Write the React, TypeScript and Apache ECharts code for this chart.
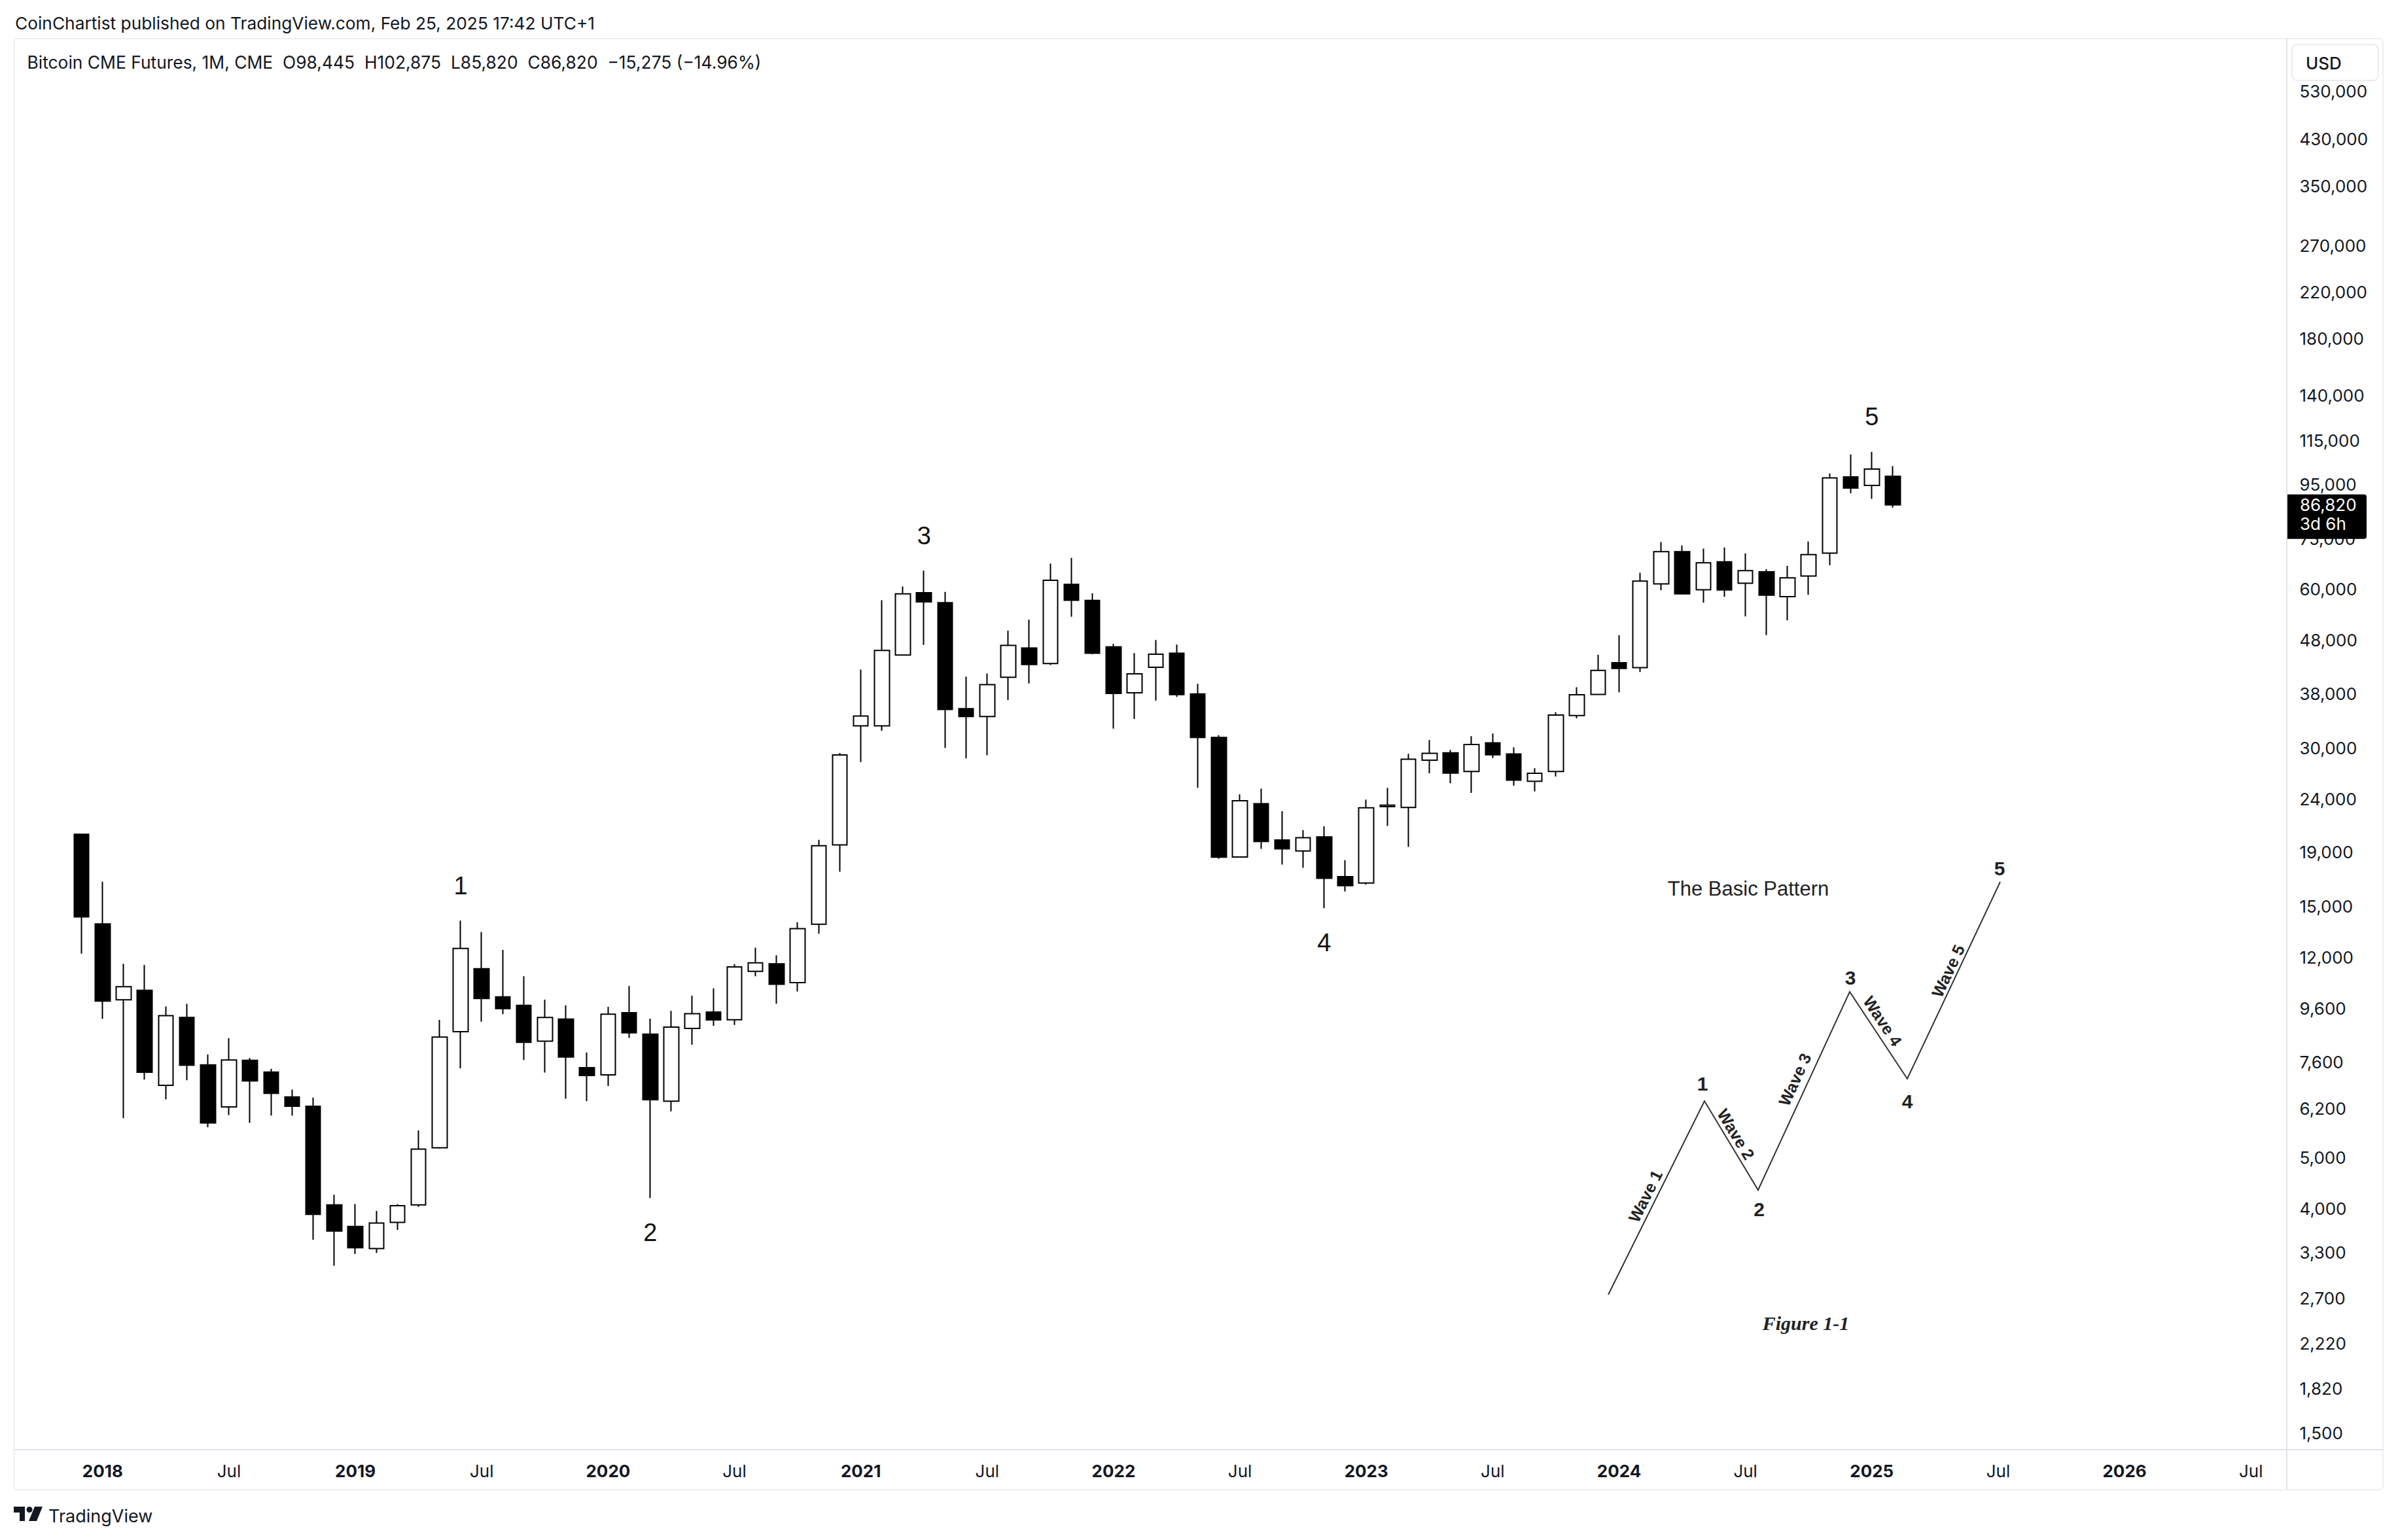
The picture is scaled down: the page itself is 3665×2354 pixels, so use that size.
import React, { useEffect, useRef } from 'react';
import * as echarts from 'echarts';

// ---------- data (monthly Bitcoin CME futures candles) ----------
const months = [
  '2017-12',
  '2018-01', '2018-02', '2018-03', '2018-04', '2018-05', '2018-06', '2018-07', '2018-08', '2018-09', '2018-10', '2018-11', '2018-12',
  '2019-01', '2019-02', '2019-03', '2019-04', '2019-05', '2019-06', '2019-07', '2019-08', '2019-09', '2019-10', '2019-11', '2019-12',
  '2020-01', '2020-02', '2020-03', '2020-04', '2020-05', '2020-06', '2020-07', '2020-08', '2020-09', '2020-10', '2020-11', '2020-12',
  '2021-01', '2021-02', '2021-03', '2021-04', '2021-05', '2021-06', '2021-07', '2021-08', '2021-09', '2021-10', '2021-11', '2021-12',
  '2022-01', '2022-02', '2022-03', '2022-04', '2022-05', '2022-06', '2022-07', '2022-08', '2022-09', '2022-10', '2022-11', '2022-12',
  '2023-01', '2023-02', '2023-03', '2023-04', '2023-05', '2023-06', '2023-07', '2023-08', '2023-09', '2023-10', '2023-11', '2023-12',
  '2024-01', '2024-02', '2024-03', '2024-04', '2024-05', '2024-06', '2024-07', '2024-08', '2024-09', '2024-10', '2024-11', '2024-12',
  '2025-01', '2025-02',
];

const opens = [
  20560,
  13890, 9970, 10390, 6860, 9230, 7500, 6240, 7650, 7270, 6520, 6260, 4065,
  3700, 3360, 3765, 4065, 5220, 8670, 11420, 10100, 9730, 8320, 9160, 7410,
  7180, 9420, 8580, 6400, 8800, 9450, 9140, 11290, 11670, 10750, 13870, 19630,
  33050, 33050, 45030, 59140, 56630, 35630, 34410, 40870, 46450, 43380, 61360, 57190,
  46690, 38170, 42700, 45380, 37980, 31410, 18620, 23510, 20050, 19110, 20330, 17090,
  16610, 23200, 23130, 28440, 29370, 27060, 30670, 29210, 25930, 27060, 34560, 37910,
  43560, 42620, 61470, 70800, 59910, 67690, 61640, 64840, 58160, 63620, 70320, 98130,
  94550, 98445,
];

const closes = [
  14330,
  9915, 10560, 7260, 9300, 7490, 5820, 7660, 6990, 6620, 6260, 3900, 3625,
  3370, 3755, 4050, 5190, 8470, 12480, 10030, 9590, 8280, 9230, 7760, 7160,
  9360, 8630, 6440, 8850, 9380, 9130, 11510, 11720, 10670, 13610, 19560, 29100,
  34480, 45940, 58850, 56840, 35500, 34410, 39570, 46980, 43220, 62440, 57230, 45380,
  38080, 41470, 45200, 37890, 31410, 18610, 23810, 19920, 19290, 20250, 16960, 16430,
  23090, 23350, 28550, 29290, 26880, 30460, 29110, 26050, 26860, 34630, 37850, 42100,
  42460, 62240, 70800, 58840, 67430, 59850, 65150, 58500, 63130, 69860, 97760, 93470,
  101570, 86820,
];

const lows = [
  12200,
  9170, 5940, 7030, 6450, 7010, 5710, 6020, 5820, 6010, 6010, 3490, 3115,
  3280, 3295, 3645, 4030, 5200, 7390, 9060, 9360, 7660, 7250, 6470, 6400,
  6840, 8440, 4190, 6120, 8190, 8900, 8930, 11050, 9800, 10340, 13310, 17450,
  28200, 32320, 45000, 47090, 30000, 28650, 29050, 37000, 39770, 43100, 53260, 45200,
  32640, 34060, 36900, 37500, 25200, 18470, 18600, 19290, 18010, 17760, 14880, 16010,
  16500, 21320, 19460, 26860, 25700, 24640, 28700, 25430, 24810, 26470, 34140, 37800,
  38270, 41810, 59800, 58700, 56630, 58110, 53310, 49130, 52400, 58610, 66720, 91360,
  89200, 85820,
];

const highs = [
  20600,
  16710, 11670, 11610, 9680, 9790, 7850, 8430, 7730, 7370, 6730, 6500, 4250,
  4080, 3960, 4080, 5630, 9130, 14090, 13410, 12400, 11050, 9980, 9730, 7920,
  9670, 10590, 9180, 9500, 10150, 10480, 11650, 12530, 12110, 13990, 20070, 29350,
  42260, 57230, 60780, 65140, 59360, 40970, 41530, 50100, 52570, 67180, 68870, 58990,
  47270, 45430, 48100, 47150, 39720, 31720, 24480, 25110, 22740, 20940, 21300, 18350,
  23930, 25200, 29240, 31040, 29740, 31580, 31950, 30090, 27460, 35060, 39130, 45090,
  49100, 64540, 73840, 72720, 71750, 72090, 70250, 65580, 66530, 73980, 99640, 108270,
  109520, 102875,
];

// price-axis tick labels (log scale)
const yTickLabels = [
  530000, 430000, 350000, 270000, 220000, 180000, 140000, 115000, 95000, 75000,
  60000, 48000, 38000, 30000, 24000, 19000, 15000, 12000, 9600, 7600,
  6200, 5000, 4000, 3300, 2700, 2220, 1820, 1500,
];

// time axis: first and number of monthly slots shown
const axisStartYear = 2017;
const axisStartMonth = 9;
const axisMonthCount = 108;

// Elliott wave counts placed on the candles
const waveMonths = ['2019-06', '2020-03', '2021-04', '2022-11', '2025-01'];
const waveTexts = ['1', '2', '3', '4', '5'];
const waveSides = ['top', 'bottom', 'top', 'bottom', 'top'];

const headerLine1 = 'CoinChartist published on TradingView.com, Feb 25, 2025 17:42 UTC+1';
const headerLine2 = 'Bitcoin CME Futures, 1M, CME  O98,445  H102,875  L85,820  C86,820  \u221215,275 (\u221214.96%)';

// ---------- helpers ----------
const TXT = '#131722';
const pad2 = (n: number) => (n < 10 ? '0' + n : '' + n);
const axisMonths: string[] = [];
for (let i = 0; i < axisMonthCount; i++) {
  const m0 = axisStartMonth - 1 + i;
  axisMonths.push(`${axisStartYear + Math.floor(m0 / 12)}-${pad2((m0 % 12) + 1)}`);
}
const fmt = (v: number) => Math.round(v).toLocaleString('en-US');

const W = 3665;
const H = 2354;
const GRID_LEFT = 11.95;
const GRID_RIGHT_X = 3488.5;
const GRID_TOP = 59;
const GRID_BOTTOM_Y = 2215.7;
const Y_MIN = 1394.6;
const Y_MAX = 667500;

const deg = (d: number) => (d * Math.PI) / 180;

function baseGraphics(): any[] {
  const g: any[] = [];
  // pane borders / separators
  g.push({ type: 'rect', silent: true, z: 0, shape: { x: 21.5, y: 59, width: 3620.5, height: 2218, r: 6 }, style: { fill: 'none', stroke: '#eceef2', lineWidth: 2 } });
  g.push({ type: 'line', silent: true, z: 0, shape: { x1: 21.5, y1: 2216, x2: 3642, y2: 2216 }, style: { stroke: '#e0e3eb', lineWidth: 2 } });
  g.push({ type: 'line', silent: true, z: 0, shape: { x1: 3495, y1: 59, x2: 3495, y2: 2277 }, style: { stroke: '#e0e3eb', lineWidth: 2 } });
  // headers
  g.push({ type: 'text', silent: true, x: 23, y: 35, style: { text: headerLine1, font: '26.3px Inter', fill: TXT, verticalAlign: 'middle' } });
  g.push({ type: 'text', silent: true, x: 41.5, y: 95, style: { text: headerLine2, font: '26.4px Inter', fill: TXT, verticalAlign: 'middle' } });
  // USD box
  g.push({ type: 'rect', silent: true, z: 5, shape: { x: 3503, y: 68, width: 132, height: 55, r: 8 }, style: { fill: '#fff', stroke: '#e9ebef', lineWidth: 2 } });
  g.push({ type: 'text', silent: true, z: 6, x: 3524, y: 96, style: { text: 'USD', font: '500 26px Inter', fill: TXT, verticalAlign: 'middle' } });
  // TradingView logo
  g.push({ type: 'polygon', silent: true, shape: { points: [[21, 2303], [38, 2303], [38, 2325], [30, 2325], [30, 2312], [21, 2312]] }, style: { fill: TXT } });
  g.push({ type: 'circle', silent: true, shape: { cx: 45, cy: 2307.5, r: 4.5 }, style: { fill: TXT } });
  g.push({ type: 'polygon', silent: true, shape: { points: [[53, 2303], [65, 2303], [56, 2325], [44, 2325]] }, style: { fill: TXT } });
  g.push({ type: 'text', silent: true, x: 74, y: 2317, style: { text: 'TradingView', font: '27px Inter', fill: TXT, verticalAlign: 'middle' } });

  // "The Basic Pattern" figure (Elliott wave illustration)
  const ink = '#222';
  g.push({ type: 'polyline', silent: true, z: 3, shape: { points: [[2458, 1979], [2605, 1683], [2687, 1819], [2827, 1516], [2915, 1649], [3057, 1348]] }, style: { stroke: '#333', lineWidth: 2, fill: 'none' } });
  g.push({ type: 'text', silent: true, z: 3, x: 2672, y: 1358, style: { text: 'The Basic Pattern', font: '31px "Liberation Sans"', fill: ink, align: 'center', verticalAlign: 'middle' } });
  const nums: [string, number, number][] = [['1', 2602, 1656], ['2', 2688.5, 1848], ['3', 2828, 1494], ['4', 2915, 1683], ['5', 3056, 1327]];
  nums.forEach(([t, x, y]) => g.push({ type: 'text', silent: true, z: 3, x, y, style: { text: t, font: 'bold 30px "Liberation Sans"', fill: ink, align: 'center', verticalAlign: 'middle' } }));
  const waves: [string, number, number, number][] = [
    ['Wave 1', 2514.6, 1828.4, 63.6],
    ['Wave 2', 2653.3, 1733.8, -58.75],
    ['Wave 3', 2743.1, 1650, 65.3],
    ['Wave 4', 2877.5, 1560.8, -56.6],
    ['Wave 5', 2977.3, 1484.2, 64.7],
  ];
  waves.forEach(([t, x, y, r]) => g.push({ type: 'text', silent: true, z: 3, x, y, rotation: deg(r), style: { text: t, font: 'bold 25px "Liberation Sans"', fill: ink, align: 'center', verticalAlign: 'middle' } }));
  g.push({ type: 'text', silent: true, z: 3, x: 2760, y: 2022, style: { text: 'Figure 1-1', font: 'italic bold 30px "Liberation Serif"', fill: ink, align: 'center', verticalAlign: 'middle' } });
  return g;
}

function tagGraphics(py: number, price: number): any[] {
  return [
    { type: 'rect', silent: true, z: 100, shape: { x: 3496, y: py - 16, width: 121, height: 68, r: [0, 4, 4, 0] }, style: { fill: '#000' } },
    { type: 'text', silent: true, z: 101, x: 3515, y: py, style: { text: fmt(price), font: '26px Inter', fill: '#fff', verticalAlign: 'middle' } },
    { type: 'text', silent: true, z: 101, x: 3515, y: py + 29, style: { text: '3d 6h', font: '26px Inter', fill: '#fff', verticalAlign: 'middle' } },
  ];
}

function buildOption(extraGraphics: any[]): any {
  const candleData = months.map((m, i) => [axisMonths.indexOf(m), opens[i], closes[i], lows[i], highs[i]]);
  const waveData = waveMonths.map((m, k) => {
    const i = months.indexOf(m);
    const side = waveSides[k];
    return {
      name: waveTexts[k],
      value: [axisMonths.indexOf(m), side === 'top' ? highs[i] : lows[i]],
      label: { position: side, distance: side === 'top' ? 34 : 33 },
    };
  });
  return {
    animation: false,
    backgroundColor: '#ffffff',
    textStyle: { fontFamily: 'Inter' },
    grid: {
      left: GRID_LEFT,
      right: W - GRID_RIGHT_X,
      top: GRID_TOP,
      bottom: H - GRID_BOTTOM_Y,
      containLabel: false,
      outerBoundsMode: 'none',
    },
    xAxis: {
      type: 'category',
      data: axisMonths,
      boundaryGap: true,
      axisLine: { show: false },
      axisTick: { show: false },
      splitLine: { show: false },
      axisLabel: {
        interval: 0,
        margin: 20,
        fontSize: 26,
        color: TXT,
        fontFamily: 'Inter',
        formatter: (v: string) => {
          const [y, m] = v.split('-');
          if (m === '01') return `{b|${y}}`;
          if (m === '07') return 'Jul';
          return '';
        },
        rich: { b: { fontWeight: 'bold', fontSize: 26, color: TXT, fontFamily: 'Inter' } },
      },
    },
    yAxis: {
      type: 'log',
      position: 'right',
      min: Y_MIN,
      max: Y_MAX,
      axisLine: { show: false },
      axisTick: { show: false },
      splitLine: { show: false },
      axisLabel: {
        customValues: yTickLabels,
        formatter: (v: number) => fmt(v),
        margin: 26,
        fontSize: 26,
        color: TXT,
        fontFamily: 'Inter',
        align: 'left',
      },
    },
    series: [
      {
        type: 'candlestick',
        data: candleData,
        encode: { x: 0, y: [1, 2, 3, 4] },
        barWidth: 23,
        itemStyle: {
          color: '#ffffff',
          color0: '#000000',
          borderColor: '#000000',
          borderColor0: '#000000',
          borderColorDoji: '#000000',
          borderWidth: 2,
        },
        z: 4,
      },
      {
        type: 'scatter',
        data: waveData,
        symbolSize: 1,
        itemStyle: { color: 'rgba(0,0,0,0)' },
        silent: true,
        z: 5,
        label: {
          show: true,
          formatter: '{b}',
          fontSize: 38,
          fontFamily: '"Liberation Sans"',
          color: '#111111',
          opacity: 1,
        },
      },
    ],
    graphic: [...baseGraphics(), ...extraGraphics],
  };
}

export default function App() {
  const ref = useRef<HTMLDivElement>(null);
  useEffect(() => {
    const el = ref.current;
    if (!el) return;
    const chart = echarts.init(el, null, { renderer: 'svg' });
    chart.setOption(buildOption([]));
    const lastClose = closes[closes.length - 1];
    const py = chart.convertToPixel({ yAxisIndex: 0 }, lastClose) as number;
    chart.setOption(buildOption(tagGraphics(py, lastClose)), { notMerge: true });
    return () => chart.dispose();
  }, []);
  return (
    <div
      ref={ref}
      style={{ position: 'absolute', left: 0, top: 0, width: W, height: H, background: '#fff' }}
    />
  );
}
